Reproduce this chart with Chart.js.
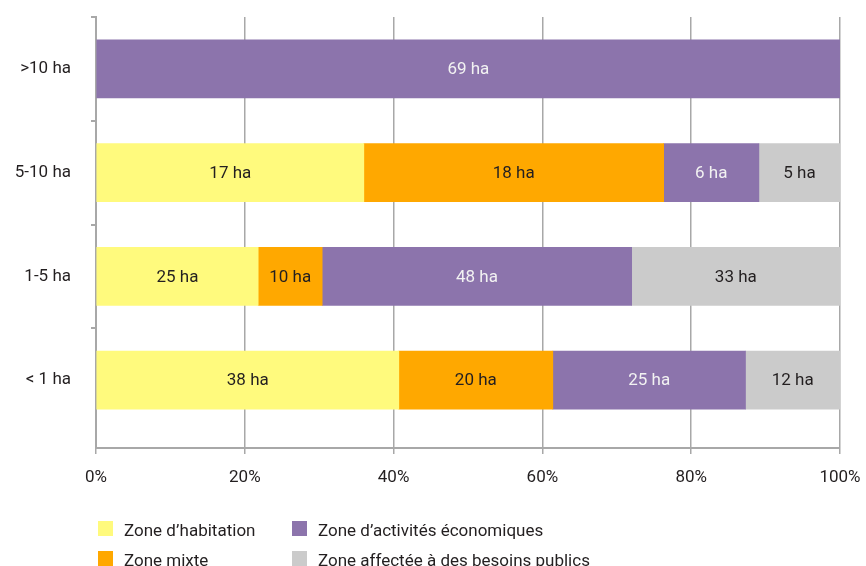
<!DOCTYPE html>
<html>
<head>
<meta charset="utf-8">
<script src="https://cdn.jsdelivr.net/npm/chart.js@4/dist/chart.umd.min.js"></script>
<style>
  html, body { margin: 0; padding: 0; background: #fff; }
  #wrap { position: relative; width: 866px; height: 566px; overflow: hidden; }
  #legend { position: absolute; left: 0; top: 0; width: 866px; height: 566px; pointer-events: none;
            font-family: Roboto, sans-serif; font-size: 17px; color: #231f20; }
  .lg-box { position: absolute; width: 15px; height: 15px; }
  .lg-txt { position: absolute; line-height: 20px; white-space: nowrap; }
</style>
</head>
<body>
<div id="wrap">
  <canvas id="c" width="866" height="566"></canvas>
  <div id="legend"></div>
</div>
<script>
// ---- data ----
const categories = ['>10 ha', '5-10 ha', '1-5 ha', '< 1 ha'];
const seriesNames = ['Zone d’habitation', 'Zone mixte', 'Zone d’activités économiques', 'Zone affectée à des besoins publics'];
const seriesColors = ['#FFFA7D', '#FFA800', '#8C74AC', '#CBCBCB'];
const labelColors = ['#231f20', '#231f20', '#f2f2f2', '#231f20'];

// surfaces (ha) printed in the bars
const habitationHa = [0, 17, 25, 38];
const mixteHa = [0, 18, 10, 20];
const activitesHa = [69, 6, 48, 25];
const publicsHa = [0, 5, 33, 12];

// share of each bar (%), as drawn
const habitationPct = [0, 36.0, 21.8, 40.7];
const mixtePct = [0, 40.3, 8.6, 20.7];
const activitesPct = [100, 12.8, 41.6, 25.9];
const publicsPct = [0, 10.9, 28.0, 12.7];

const xTicks = [0, 20, 40, 60, 80, 100];

const pctSeries = [habitationPct, mixtePct, activitesPct, publicsPct];
const haSeries = [habitationHa, mixteHa, activitesHa, publicsHa];

Chart.defaults.font.family = 'Roboto, sans-serif';
Chart.defaults.font.size = 17;
Chart.defaults.color = '#231f20';

const axisColor = '#a8a8a8';

const barLabels = {
  id: 'barLabels',
  afterDatasetsDraw(chart) {
    const ctx = chart.ctx;
    ctx.save();
    ctx.font = '17px Roboto, sans-serif';
    ctx.textAlign = 'center';
    ctx.textBaseline = 'middle';
    chart.data.datasets.forEach((ds, di) => {
      const meta = chart.getDatasetMeta(di);
      meta.data.forEach((el, i) => {
        const v = haSeries[di][i];
        if (!v) return;
        const p = el.getProps(['x', 'y', 'base'], true);
        ctx.fillStyle = labelColors[di];
        ctx.fillText(v + ' ha', (p.x + p.base) / 2, p.y + 1);
      });
    });
    ctx.restore();
  }
};

new Chart(document.getElementById('c'), {
  type: 'bar',
  data: {
    labels: categories,
    datasets: seriesNames.map((n, i) => ({
      label: n,
      data: pctSeries[i].map(v => (v ? v : null)),
      backgroundColor: seriesColors[i],
      borderWidth: 0,
      barThickness: 58
    }))
  },
  options: {
    indexAxis: 'y',
    responsive: false,
    animation: false,
    layout: { padding: { top: 17, right: 26, left: 0, bottom: 0 } },
    plugins: { legend: { display: false }, tooltip: { enabled: false } },
    scales: {
      x: {
        stacked: true,
        min: 0, max: 100,
        afterFit(scale) { scale.height = 118; scale.paddingLeft = 0; scale.paddingRight = 0; },
        afterBuildTicks(scale) { scale.ticks = xTicks.map(v => ({ value: v })); },
        ticks: { callback: v => v + '%', padding: 14, color: '#231f20' },
        grid: { color: axisColor, lineWidth: 1.5, tickLength: 6, drawTicks: true },
        border: { color: axisColor, width: 2 }
      },
      y: {
        stacked: true,
        offset: true,
        afterFit(scale) { scale.width = 96; scale.paddingTop = 0; scale.paddingBottom = 0; },
        afterBuildTicks(scale) { scale._valueRange = 432 / 104; },
        ticks: { padding: 20, color: '#231f20' },
        grid: {
          offset: true,
          drawOnChartArea: false,
          tickLength: 5,
          lineWidth: 2,
          color: c => (c.type === 'tick' ? axisColor : 'rgba(0,0,0,0)')
        },
        border: { color: axisColor, width: 2 }
      }
    }
  },
  plugins: [barLabels]
});

// legend (two columns, column-major)
const lg = document.getElementById('legend');
seriesNames.forEach((n, i) => {
  const col = Math.floor(i / 2), row = i % 2;
  const bx = 98 + col * 194, by = 521 + row * 30;
  const b = document.createElement('div');
  b.className = 'lg-box';
  b.style.left = bx + 'px'; b.style.top = by + 'px';
  b.style.background = seriesColors[i];
  const t = document.createElement('div');
  t.className = 'lg-txt';
  t.style.left = (bx + 26) + 'px'; t.style.top = (by - 1) + 'px';
  t.textContent = n;
  lg.appendChild(b); lg.appendChild(t);
});
</script>
</body>
</html>
